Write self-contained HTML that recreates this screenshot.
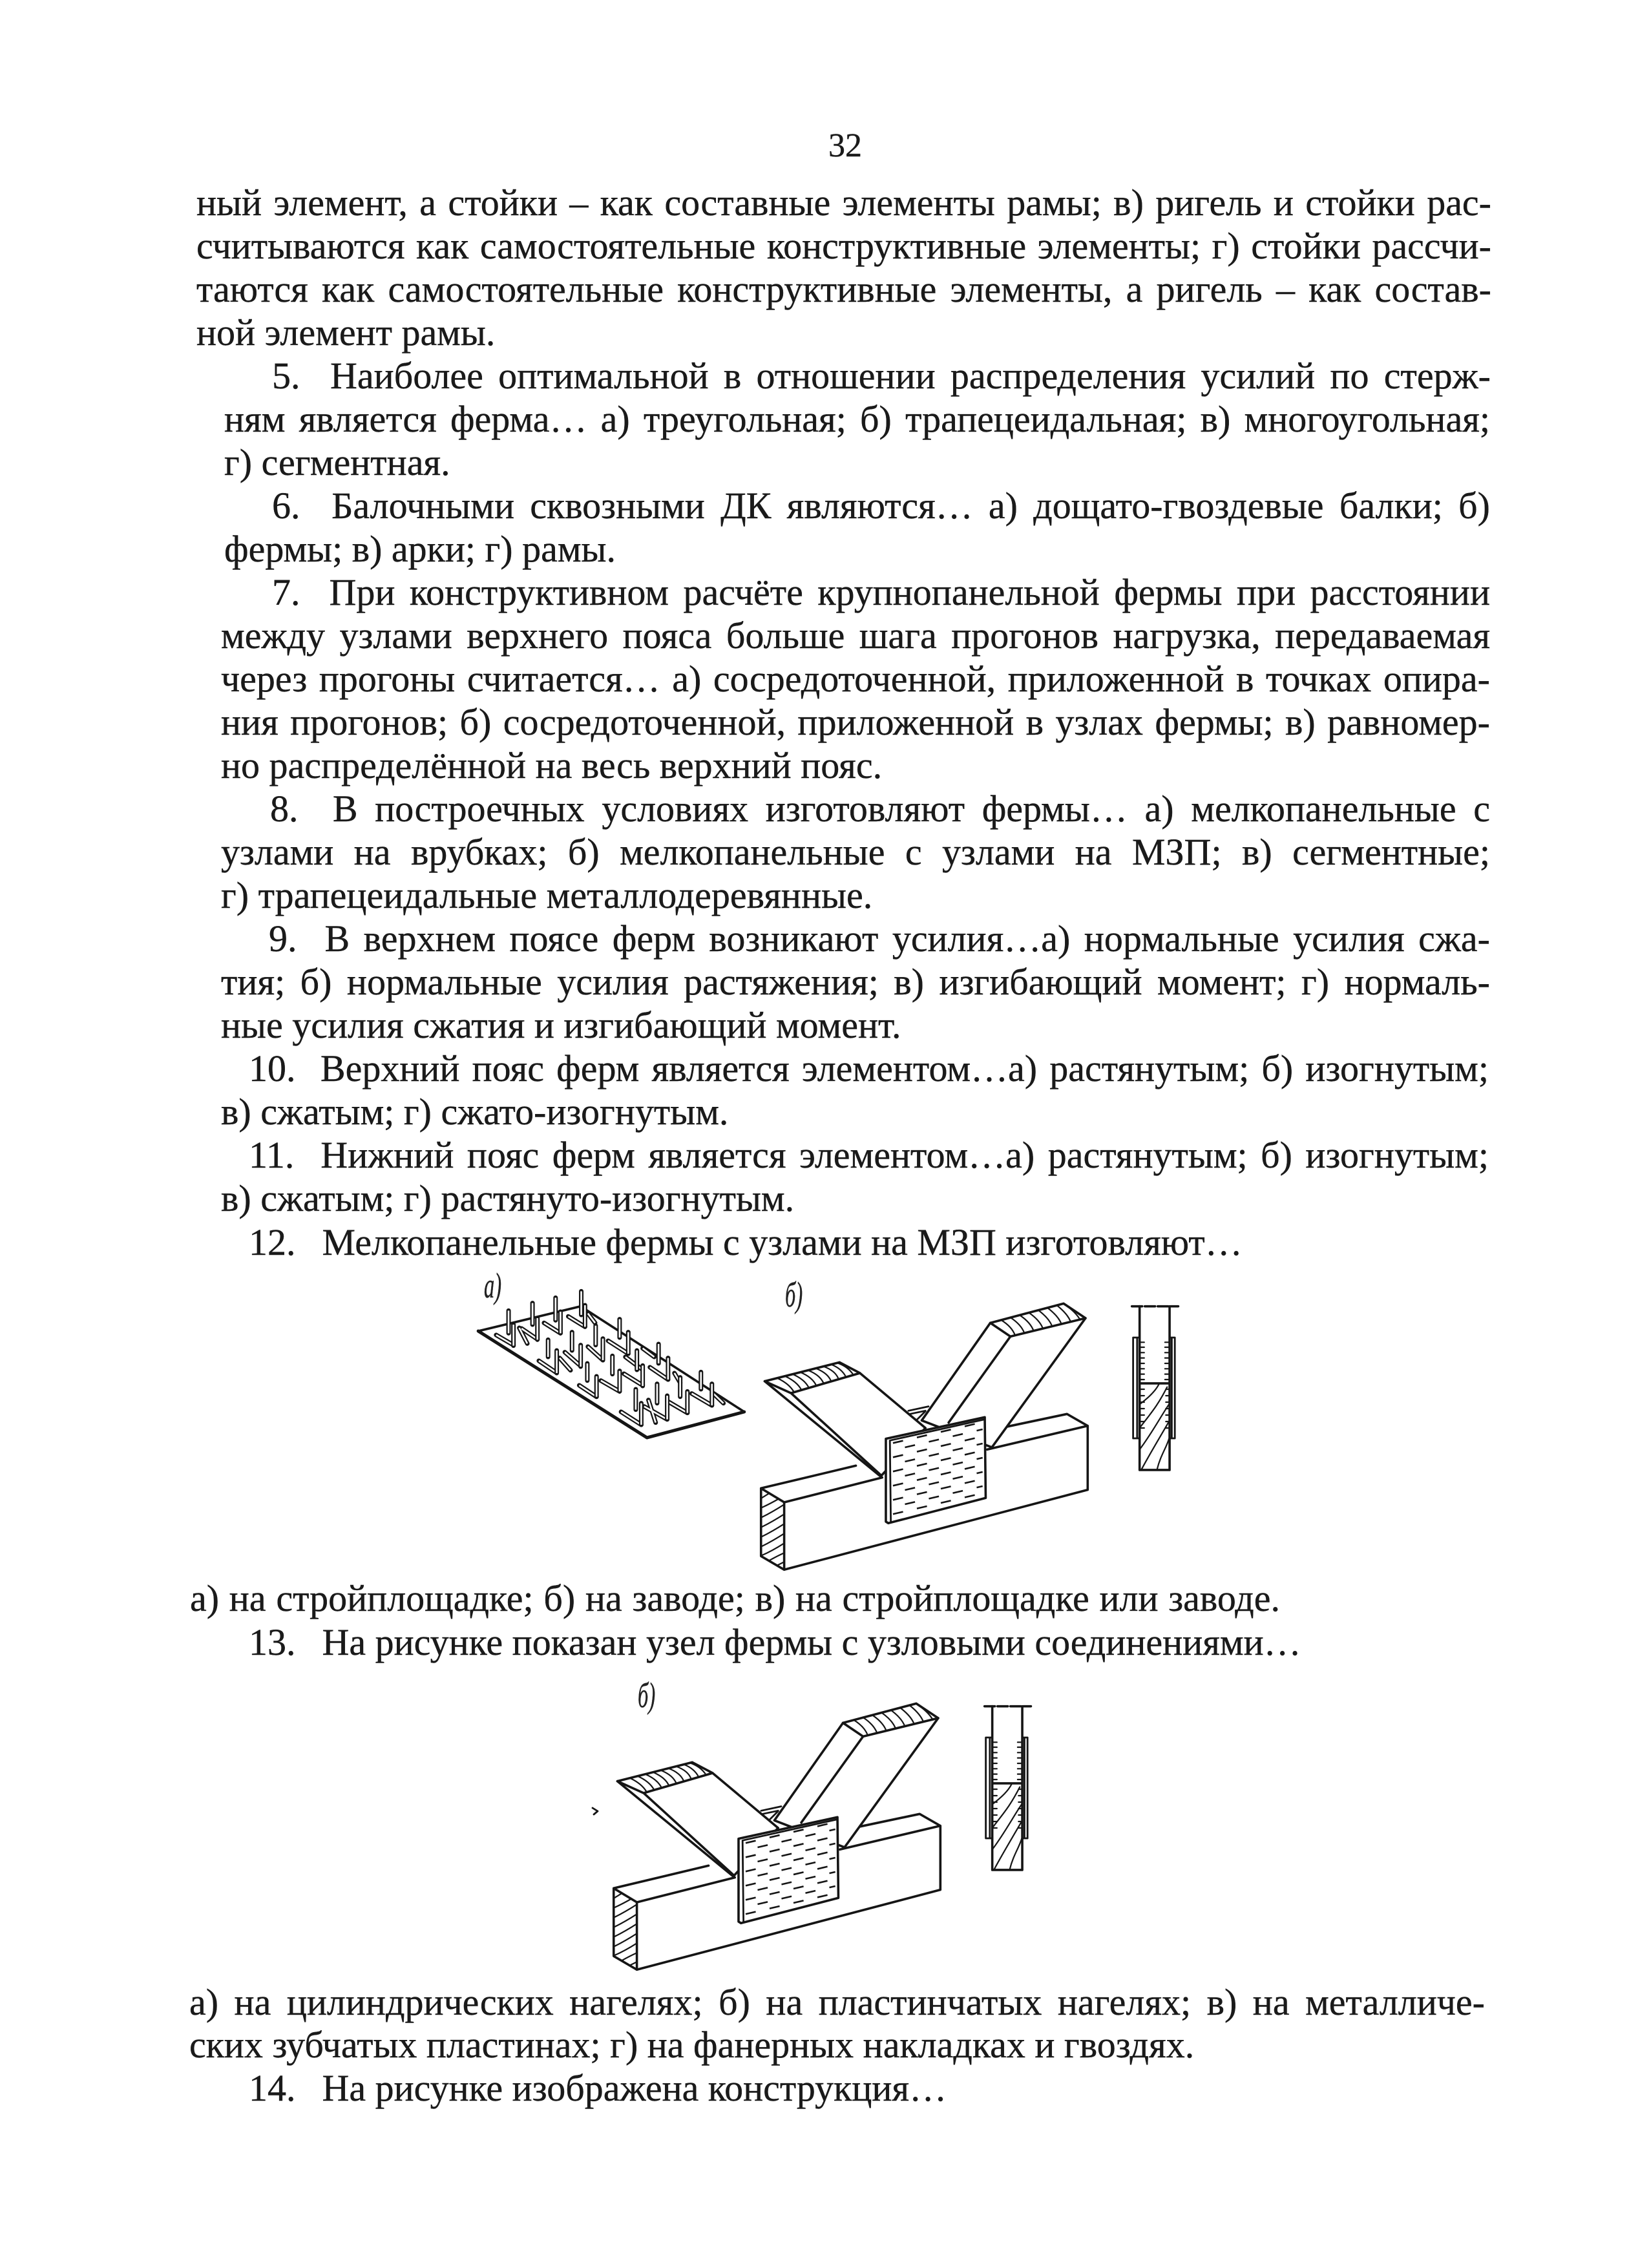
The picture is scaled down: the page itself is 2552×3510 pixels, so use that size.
<!DOCTYPE html>
<html lang="ru"><head><meta charset="utf-8"><title>32</title>
<style>
html,body{margin:0;padding:0;background:#fff}
#p{position:relative;width:2552px;height:3510px;overflow:hidden;background:#fff;font-family:"Liberation Serif","DejaVu Serif",serif;font-size:58px;line-height:67px;color:#1a1a1a}
#p div{position:absolute;white-space:nowrap;text-align:justify;text-align-last:justify;-webkit-text-stroke:.4px #1a1a1a}
#p div.n{text-align:left;text-align-last:left}
.g{padding-right:12px}
svg{position:absolute;left:0;top:0}
path{vector-effect:non-scaling-stroke}
.s{fill:none;stroke:#151515;stroke-width:3.6;stroke-linecap:round;stroke-linejoin:round}
.w{fill:#fff}
.t{stroke-width:2.2}
.m{stroke-width:2.8}
.d1{stroke-width:2.6;stroke-dasharray:16 22;stroke-linecap:butt}
.d2{stroke-width:2.6;stroke-dasharray:16 22;stroke-dashoffset:19;stroke-linecap:butt}
.nb{fill:none;stroke:#151515;stroke-width:7;stroke-linecap:round}
.nw{fill:none;stroke:#fff;stroke-width:2.6;stroke-linecap:butt}
text{font-family:"Liberation Serif",serif;font-style:italic;font-size:50px;fill:#222;stroke:#222;stroke-width:.4}
</style></head><body><div id="p">
<div class="n" style="left:1282px;font-size:52px;top:192px">32</div>
<div style="left:304px;width:2004px;top:280px">ный элемент, а стойки – как составные элементы рамы; в) ригель и стойки рас-</div>
<div style="left:304px;width:2004px;top:347px">считываются как самостоятельные конструктивные элементы; г) стойки рассчи-</div>
<div style="left:304px;width:2004px;top:414px">таются как самостоятельные конструктивные элементы, а ригель – как состав-</div>
<div class="n" style="left:304px;top:481px">ной элемент рамы.</div>
<div style="left:421px;width:1886px;top:548px">5.&nbsp; Наиболее оптимальной в отношении распределения усилий по стерж-</div>
<div style="left:347px;width:1959px;top:615px">ням является ферма… а) треугольная; б) трапецеидальная; в) многоугольная;</div>
<div class="n" style="left:347px;top:682px">г) сегментная.</div>
<div style="left:421px;width:1885px;top:749px">6.&nbsp; Балочными сквозными ДК являются… а) дощато-гвоздевые балки; б)</div>
<div class="n" style="left:347px;top:816px">фермы; в) арки; г) рамы.</div>
<div style="left:421px;width:1885px;top:883px">7.&nbsp; При конструктивном расчёте крупнопанельной фермы при расстоянии</div>
<div style="left:342px;width:1964px;top:950px">между узлами верхнего пояса больше шага прогонов нагрузка, передаваемая</div>
<div style="left:342px;width:1964px;top:1017px">через прогоны считается… а) сосредоточенной, приложенной в точках опира-</div>
<div style="left:342px;width:1964px;top:1084px">ния прогонов; б) сосредоточенной, приложенной в узлах фермы; в) равномер-</div>
<div class="n" style="left:342px;top:1151px">но распределённой на весь верхний пояс.</div>
<div style="left:418px;width:1888px;top:1218px">8.&nbsp; В построечных условиях изготовляют фермы… а) мелкопанельные с</div>
<div style="left:342px;width:1964px;top:1285px">узлами на врубках; б) мелкопанельные с узлами на МЗП; в) сегментные;</div>
<div class="n" style="left:342px;top:1352px">г) трапецеидальные металлодеревянные.</div>
<div style="left:416px;width:1890px;top:1419px">9.&nbsp; В верхнем поясе ферм возникают усилия…а) нормальные усилия сжа-</div>
<div style="left:342px;width:1964px;top:1486px">тия; б) нормальные усилия растяжения; в) изгибающий момент; г) нормаль-</div>
<div class="n" style="left:342px;top:1553px">ные усилия сжатия и изгибающий момент.</div>
<div style="left:385px;width:1919px;top:1620px">10.&nbsp; Верхний пояс ферм является элементом…а) растянутым; б) изогнутым;</div>
<div class="n" style="left:342px;top:1687px">в) сжатым; г) сжато-изогнутым.</div>
<div style="left:385px;width:1919px;top:1754px">11.&nbsp; Нижний пояс ферм является элементом…а) растянутым; б) изогнутым;</div>
<div class="n" style="left:342px;top:1821px">в) сжатым; г) растянуто-изогнутым.</div>
<div class="n" style="left:385px;top:1889px"><span class="g">12.&nbsp;</span> Мелкопанельные фермы с узлами на МЗП изготовляют…</div>
<div style="left:294px;width:1687px;top:2440px">а) на стройплощадке; б) на заводе; в) на стройплощадке или заводе.</div>
<div class="n" style="left:385px;top:2508px"><span class="g">13.&nbsp;</span> На рисунке показан узел фермы с узловыми соединениями…</div>
<div style="left:293px;width:2005px;top:3065px">а) на цилиндрических нагелях; б) на пластинчатых нагелях; в) на металличе-</div>
<div class="n" style="left:293px;top:3131px">ских зубчатых пластинах; г) на фанерных накладках и гвоздях.</div>
<div class="n" style="left:385px;top:3198px"><span class="g">14.&nbsp;</span> На рисунке изображена конструкция…</div>

<svg width="2552" height="3510" viewBox="0 0 2552 3510">
<defs>
<g id="joint">
 <!-- beam -->
 <path class="s w" d="M58 1030L365 925M850 745L1048 685L1115 740L1115 1037L133 1408L58 1345L58 1030L133 1095L133 1408M133 1095L450 980M790 850L1115 740"/>
 <path class="s t" d="M60 1075L85 1053M60 1120Q90 1100 115 1079M60 1165Q95 1140 133 1105M60 1210Q95 1185 133 1150M60 1255Q95 1230 133 1195M60 1300Q95 1275 133 1240M60 1342Q95 1320 133 1285M85 1365Q110 1345 133 1330M110 1388L133 1372"/>
 <!-- back bit -->
 <path class="s m" d="M535 670L600 650M540 685L590 670M560 715L590 672"/>
 <!-- left diagonal -->
 <path class="s w" d="M70 533L312 445L378 495L590 750L445 975Z"/>
 <path class="s" d="M155 588L378 495M70 533L155 588L445 968"/>
 <path class="s t" d="M110 518Q150 545 165 584M135 509Q175 535 189 574M160 500Q200 525 213 564M185 491Q225 515 237 554M210 482Q250 505 261 544M235 473Q275 495 285 534M260 464Q300 485 309 524M285 455Q320 475 333 514M305 448Q340 465 357 504"/>
 <!-- right diagonal -->
 <path class="s w" d="M800 262L1037 172L1108 240L805 840L578 715Z"/>
 <path class="s" d="M800 262L865 325L1108 240M865 325L665 725"/>
 <path class="s t" d="M835 249Q870 280 880 320M865 237Q900 270 910 309M895 226Q930 260 940 299M925 215Q960 250 970 288M955 203Q990 240 1000 278M985 192Q1020 230 1030 267M1015 180Q1050 220 1060 257M1040 176Q1075 210 1090 246"/>
 <!-- plate -->
 <path class="s w" d="M462 800L782 700L785 1075L470 1192L462 1185Z"/>
 <path class="s m" d="M475 810L478 1185M475 808L782 710"/>
 <path class="s d1" d="M485 820L775 723M485 886L775 789M485 952L775 855M485 1018L775 921M485 1084L775 987M485 1150L775 1053"/>
 <path class="s d2" d="M485 853L775 756M485 919L775 822M485 985L775 888M485 1051L775 954M485 1117L775 1020"/>
 <!-- section -->
 <path class="s" stroke-dasharray="16 4" d="M1258 185L1408 185"/>
 <path class="s" d="M1283 185L1283 945L1380 945L1380 185M1283 543L1380 543"/>
 <path class="s m" d="M1283 330L1262 330L1262 798L1283 798M1275 330L1275 798M1380 330L1397 330L1397 798L1380 798M1387 330L1387 798"/>
 <path class="s t" d="M1283 352H1298M1283 375H1298M1283 400H1298M1283 425H1298M1283 450H1298M1283 475H1298M1283 500H1298M1283 525H1298M1283 570H1298M1283 600H1298M1283 630H1298M1283 660H1298M1283 690H1298M1283 720H1298M1283 750H1298M1365 352H1380M1365 375H1380M1365 400H1380M1365 425H1380M1365 450H1380M1365 475H1380M1365 500H1380M1365 525H1380M1368 570H1380M1368 600H1380M1368 630H1380M1368 660H1380M1368 690H1380M1368 720H1380M1368 750H1380"/>
 <path class="s t" d="M1283 640Q1330 590 1345 548M1283 750C1320 680 1340 650 1372 560M1283 850C1320 780 1350 700 1378 640M1290 940C1320 860 1350 790 1378 720M1340 940C1350 880 1370 840 1378 800"/>
</g>
<path id="nails" d="M195 205V310M278 170V270M358 145V250M447 115V225M580 245V330M715 360V450M862 490V570M212 270V368M295 240V340M375 210V310M460 180V280M610 305V405M748 425V525M900 545V645M332 340V420M415 305V390M497 275V365M640 390V480M790 515V605M362 390V495M445 365V465M522 335V435M660 460V555M815 580V680M468 450V530M555 415V500M710 545V635M500 510V605M580 485V580M745 600V710M636 570V665M655 635V735"/>
<path id="slots" d="M152 318L212 365M232 285L260 358M240 288L295 338M318 262L375 310M402 232L460 280M470 218L495 262M300 438L360 492M372 425L410 482M390 398L445 462M470 372L522 435M540 345L610 405M600 420L660 480M660 380L700 420M440 552L500 605M515 530L580 580M595 498L660 552M685 468L748 525M770 495L790 540M585 675L655 735M665 650L745 710M745 625L815 680M830 590L900 645M905 590L940 635M680 620L705 725"/>
</defs>

<!-- Fig a -->
<g transform="translate(700,1960) scale(.4464,.3333)">
 <path class="s w" d="M90 300L445 185L1012 675L675 795Z"/>
 <path class="s" style="stroke-width:5" d="M90 300L675 795L1012 675"/>
 <use href="#slots" class="nb"/>
 <use href="#slots" class="nw"/>
 <use href="#nails" class="nb"/>
 <use href="#nails" class="nw"/>
</g>
<text transform="translate(749,2008) scale(.65,1.1)">а)</text>
<text transform="translate(1215,2022) scale(.65,1.1)">б)</text>

<!-- Fig b (first) -->
<g transform="translate(1150,1960) scale(.4783,.3333)"><use href="#joint"/></g>
<!-- Fig b (second) -->
<g transform="translate(922,2579) scale(.4783,.3333)"><use href="#joint"/></g>
<text transform="translate(987,2642) scale(.65,1.1)">б)</text>
<path class="s m" d="M917 2798L925 2803L919 2808"/>
</svg>
</div></body></html>
